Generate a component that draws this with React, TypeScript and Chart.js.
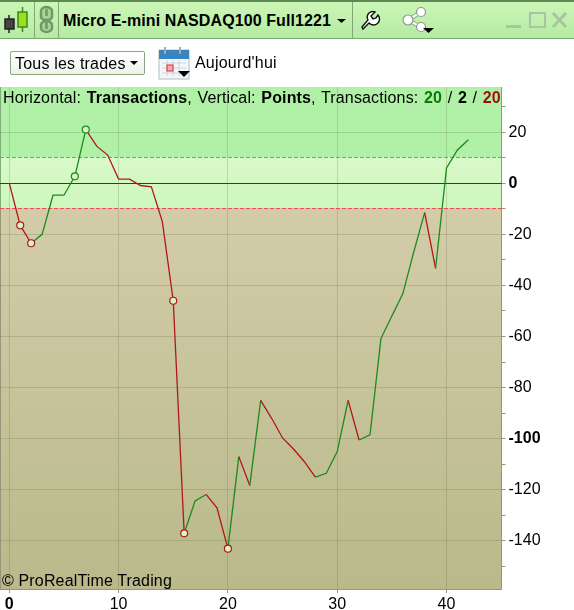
import React, { useEffect, useRef } from "react";
import { Chart, registerables } from "chart.js";

Chart.register(...registerables);

const tradeValues = [
  0, -16.5, -23.5, -20, -4.7, -4.7, 2.7, 21, 14.5, 11, 1.6, 1.6, -0.9, -1.4, -15, -46, -137, -124.3, -121.8, -127, -143,
  -107, -118.3, -85, -92, -99.7, -104, -109, -115, -113.5, -105, -85, -100.5, -98.5, -60.8, -52, -43.3, -27, -11.5,
  -33.3, 6, 13, 17,
];
const redMarkers = [1, 2, 15, 16, 20];
const greenMarkers = [6, 7];
const xTicks = [0, 10, 20, 30, 40];
const yTicks = [30, 20, 10, 0, -10, -20, -30, -40, -50, -60, -70, -80, -90, -100, -110, -120, -130, -140, -150];
const yLabels = [20, 0, -20, -40, -60, -80, -100, -120, -140];
const boldY = [0, -100];
const upperLimit = 10;
const lowerLimit = -10;

const FONT = '"Liberation Sans", Arial, sans-serif';
const GREEN = "#1a8a1a";
const RED = "#b01818";

const bandsPlugin = {
  id: "bands",
  beforeDraw(chart: any) {
    const { ctx, chartArea: a, scales } = chart;
    const y = scales.y;
    const yU = Math.floor(y.getPixelForValue(upperLimit));
    const yL = Math.floor(y.getPixelForValue(lowerLimit));
    ctx.save();
    ctx.fillStyle = "#b1f1a7";
    ctx.fillRect(a.left, a.top, a.right - a.left, yU - a.top);
    let g = ctx.createLinearGradient(0, yU, 0, yL);
    g.addColorStop(0, "#d9f9c9");
    g.addColorStop(1, "#cdf7bd");
    ctx.fillStyle = g;
    ctx.fillRect(a.left, yU, a.right - a.left, yL - yU);
    g = ctx.createLinearGradient(0, yL, 0, a.bottom);
    g.addColorStop(0, "#d3cca9");
    g.addColorStop(1, "#b9b98b");
    ctx.fillStyle = g;
    ctx.fillRect(a.left, yL, a.right - a.left, a.bottom - yL);
    ctx.fillStyle = "#7fae78";
    ctx.fillRect(a.left, a.top, 1, yL - a.top);
    ctx.fillStyle = "#96967a";
    ctx.fillRect(a.left, yL, 1, a.bottom - yL);
    ctx.restore();
  },
  beforeDatasetsDraw(chart: any) {
    const { ctx, chartArea: a, scales } = chart;
    const y = scales.y;
    const line = (v: number, color: string, dash: number[]) => {
      const p = Math.floor(y.getPixelForValue(v)) + 0.5;
      ctx.save();
      ctx.strokeStyle = color;
      ctx.lineWidth = 1;
      ctx.setLineDash(dash);
      ctx.beginPath();
      ctx.moveTo(a.left, p);
      ctx.lineTo(a.right, p);
      ctx.stroke();
      ctx.restore();
    };
    line(upperLimit, "#4cc04c", [4, 2]);
    line(lowerLimit, "#f04a55", [4, 2]);
    line(0, "#2a2ab0", []);
  },
};

function IconBar() {
  return (
    <svg width="574" height="40" style={{ position: "absolute", left: 0, top: 0 }}>
      <g stroke="#222" strokeWidth="1.5">
        <line x1="9" y1="15" x2="9" y2="33" />
        <rect x="5" y="19" width="9" height="10" fill="#444" />
      </g>
      <g stroke="#3c8a10" strokeWidth="1.5">
        <line x1="22.5" y1="7" x2="22.5" y2="32" />
        <rect x="18" y="12" width="9" height="15" fill="#98e020" />
      </g>
      <g fill="none" stroke="#6f9a68" strokeWidth="2.5">
        <path d="M41 17 v-6 a5.5 4 0 0 1 11 0 v6 a5.5 3 0 0 1 -11 0" fill="#a8d49c" />
        <path d="M41 26 v-1 a5.5 4 0 0 1 11 0 v3 a5.5 4 0 0 1 -11 0 z" fill="#a8d49c" />
        <line x1="46.5" y1="9" x2="46.5" y2="16" />
        <line x1="46.5" y1="22" x2="46.5" y2="29" />
      </g>
      <path d="M337 19 h9 l-4.5 4 z" fill="#000" />
      <path
        d="M362 27 l6 -7 a6 6 0 0 1 1 -7 a6 6 0 0 1 6 -1 l-4 4 l2 3 l3 -1 l2 -3 a6 6 0 0 1 -9 8 l-6 6 z"
        fill="#fff"
        stroke="#111"
        strokeWidth="1.4"
      />
      <g stroke="#8a9a88" strokeWidth="4" fill="none">
        <line x1="421" y1="12" x2="408" y2="20" />
        <line x1="408" y1="20" x2="421" y2="27" />
      </g>
      <g stroke="#fff" strokeWidth="2.5" fill="none">
        <line x1="421" y1="12" x2="408" y2="20" />
        <line x1="408" y1="20" x2="421" y2="27" />
      </g>
      <g stroke="#8a9a88" strokeWidth="1.2" fill="#fff">
        <circle cx="421" cy="12" r="4.5" />
        <circle cx="408" cy="20" r="5" />
        <circle cx="421" cy="27" r="4.5" />
      </g>
      <path d="M423 28 h11 l-5.5 5 z" fill="#000" />
      <rect x="506" y="25" width="15" height="3" fill="#a9c4a2" />
      <rect x="530" y="13" width="15" height="14" fill="none" stroke="#a9c4a2" strokeWidth="2" />
      <path d="M553 13 l13 14 M566 13 l-13 14" stroke="#a9c4a2" strokeWidth="3" />
    </svg>
  );
}

function CalendarIcon() {
  return (
    <svg width="34" height="36" style={{ position: "absolute", left: 158, top: 46 }}>
      <rect x="1" y="4" width="30" height="29" fill="#f4f6f8" stroke="#b4bcc4" />
      <rect x="1" y="4" width="30" height="9" fill="#3a84c0" />
      <rect x="6" y="1" width="2" height="7" fill="#aaa" />
      <rect x="21" y="1" width="2" height="7" fill="#aaa" />
      <path d="M4 17 h24 M4 22 h24 M4 27 h24 M9 14 v16 M15 14 v16 M21 14 v16" stroke="#c8d4e0" />
      <rect x="9" y="19" width="6" height="6" fill="#f6b0b0" stroke="#e02828" />
      <path d="M20 25 h12 l-6 6 z" fill="#000" />
    </svg>
  );
}

export default function App() {
  const ref = useRef<HTMLCanvasElement>(null);

  useEffect(() => {
    document.body.style.margin = "0";
    const colorOf = (i: number): string => {
      const d = tradeValues[i + 1] - tradeValues[i];
      if (d === 0) return colorOf(i - 1);
      return d > 0 ? GREEN : RED;
    };
    const chart = new Chart(ref.current!, {
      type: "line",
      data: {
        datasets: [
          {
            data: tradeValues.map((y, x) => ({ x, y })),
            borderWidth: 1.3,
            borderColor: GREEN,
            tension: 0,
            segment: { borderColor: (c: any) => colorOf(c.p0DataIndex) },
            pointRadius: (c: any) => (redMarkers.includes(c.dataIndex) || greenMarkers.includes(c.dataIndex) ? 3.5 : 0),
            pointBorderWidth: 1.2,
            pointBorderColor: (c: any) => (redMarkers.includes(c.dataIndex) ? RED : GREEN),
            pointBackgroundColor: "#d5f5c2",
          },
        ],
      },
      options: {
        animation: false,
        responsive: false,
        layout: { padding: { left: 0, top: 87, right: 0, bottom: 0 } },
        plugins: { legend: { display: false }, title: { display: false }, tooltip: { enabled: false } },
        scales: {
          x: {
            type: "linear",
            min: -0.85,
            max: 45.03,
            afterBuildTicks: (axis: any) => {
              axis.ticks = xTicks.map((value) => ({ value }));
            },
            afterFit: (axis: any) => {
              axis.height = 21;
            },
            border: { color: "#8f9a6e", width: 1 },
            grid: { color: "rgba(90,100,60,0.22)", tickColor: "#8f9a6e", tickLength: 4, lineWidth: 1 },
            ticks: {
              autoSkip: false,
              maxRotation: 0,
              padding: 2,
              color: "#000",
              font: (c: any) => ({ family: FONT, size: 16, weight: c.tick && c.tick.value === 0 ? "bold" : "normal" }),
            },
          },
          y: {
            type: "linear",
            position: "right",
            min: -158.8,
            max: 37.65,
            afterBuildTicks: (axis: any) => {
              axis.ticks = yTicks.map((value) => ({ value }));
            },
            afterFit: (axis: any) => {
              axis.width = 72.5;
            },
            border: { color: "#8f9a6e", width: 1 },
            grid: {
              color: (c: any) => (c.tick && yLabels.includes(c.tick.value) ? "rgba(90,100,60,0.22)" : "rgba(0,0,0,0)"),
              tickColor: "#8f9a6e",
              tickLength: 4,
              lineWidth: 1,
            },
            ticks: {
              autoSkip: false,
              padding: 3,
              color: "#000",
              callback: (v: any) => (yLabels.includes(v) ? String(v) : ""),
              font: (c: any) => ({
                family: FONT,
                size: 16,
                weight: c.tick && boldY.includes(c.tick.value) ? "bold" : "normal",
              }),
            },
          },
        },
      },
      plugins: [bandsPlugin],
    } as any);
    return () => chart.destroy();
  }, []);

  return (
    <div style={{ position: "absolute", left: 0, top: 0, width: 574, height: 610, background: "#fff", fontFamily: FONT, overflow: "hidden" }}>
      <canvas ref={ref} width={574} height={610} style={{ position: "absolute", left: 0, top: 0, display: "block" }} />
      <div
        style={{
          position: "absolute",
          left: 0,
          top: 0,
          width: 574,
          height: 39,
          boxSizing: "border-box",
          borderTop: "2px solid #5d8a52",
          borderBottom: "1px solid #7fa876",
          background: "linear-gradient(#ccf6b6,#b4eba4)",
        }}
      />
      {[34, 58, 352].map((x) => (
        <div key={x} style={{ position: "absolute", left: x, top: 2, width: 1, height: 36, background: "#7fa876" }} />
      ))}
      <IconBar />
      <div style={{ position: "absolute", left: 63, top: 12, fontSize: 16, fontWeight: "bold", letterSpacing: "0.1px", color: "#000", whiteSpace: "nowrap" }}>
        Micro E-mini NASDAQ100 Full1221
      </div>
      <div
        style={{
          position: "absolute",
          left: 10,
          top: 51,
          width: 135,
          height: 24,
          boxSizing: "border-box",
          border: "1px solid #8aa67e",
          borderRadius: 2,
          background: "linear-gradient(#fff,#eef2ea)",
          fontSize: 16,
          lineHeight: "23px",
          paddingLeft: 4,
          letterSpacing: "0.2px",
          color: "#000",
          whiteSpace: "nowrap",
        }}
      >
        Tous les trades
        <span style={{ position: "absolute", left: 119, top: 9, width: 0, height: 0, borderLeft: "4px solid transparent", borderRight: "4px solid transparent", borderTop: "4px solid #000" }} />
      </div>
      <CalendarIcon />
      <div style={{ position: "absolute", left: 195, top: 54, fontSize: 16, letterSpacing: "0.2px", color: "#000", whiteSpace: "nowrap" }}>Aujourd'hui</div>
      <div style={{ position: "absolute", left: 3, top: 89, fontSize: 16, letterSpacing: "0.15px", wordSpacing: "1px", color: "#000", whiteSpace: "nowrap" }}>
        Horizontal: <b>Transactions</b>, Vertical: <b>Points</b>, Transactions:{" "}
        <b style={{ color: "#0a7a0a" }}>20</b> / <b>2</b> / <b style={{ color: "#a01010" }}>20</b>
      </div>
      <div style={{ position: "absolute", left: 2, top: 572, fontSize: 16, letterSpacing: "0.15px", color: "#000", whiteSpace: "nowrap" }}>© ProRealTime Trading</div>
    </div>
  );
}
